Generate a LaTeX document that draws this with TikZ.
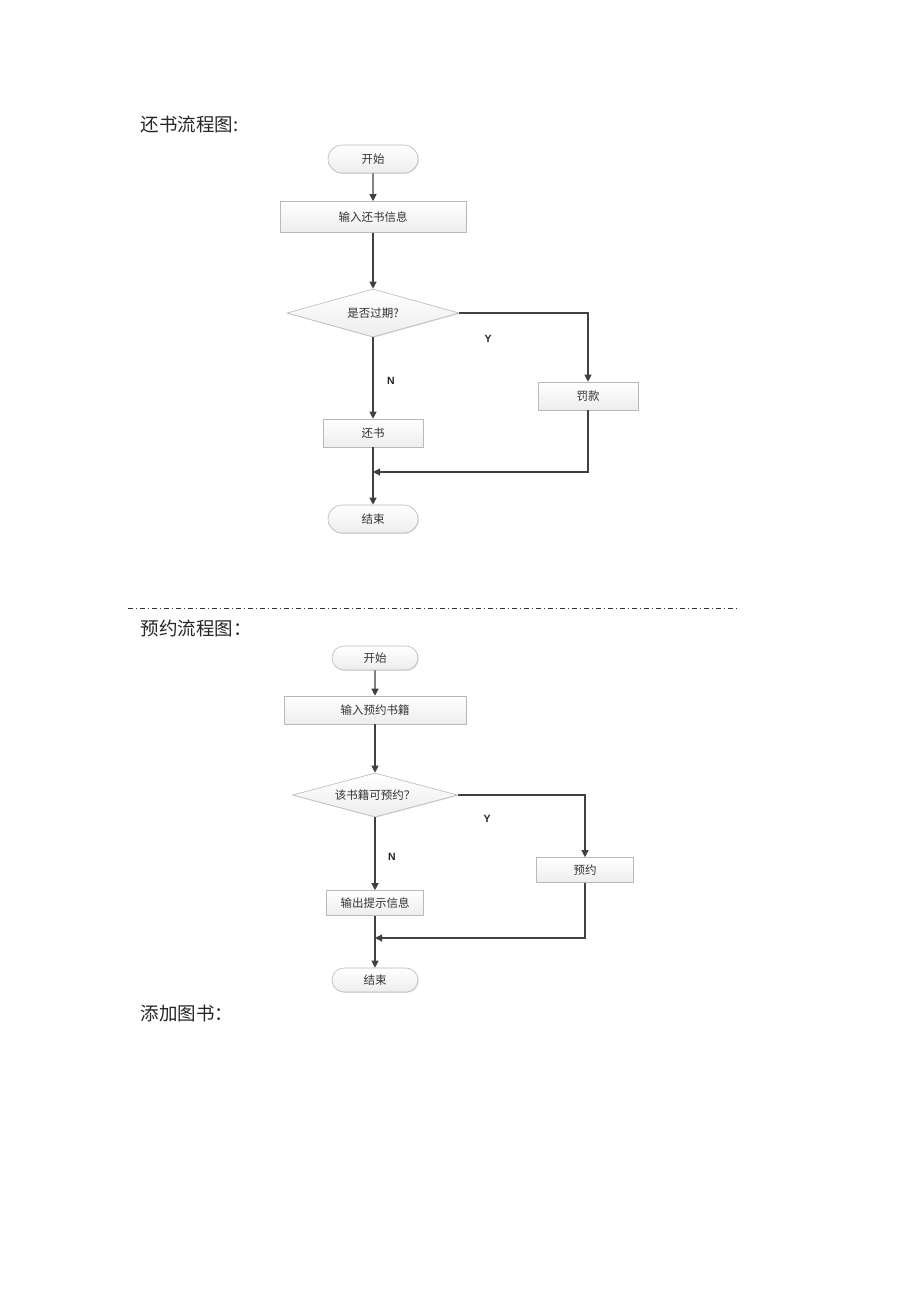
\documentclass[tikz,border=0pt]{standalone}
\usepackage{fontspec}
\setmainfont{Liberation Serif}
\newfontfamily\cjk{Noto Sans CJK SC}
\newfontfamily\lab{Liberation Sans}
\usetikzlibrary{shapes.geometric,shapes.misc,arrows.meta,shadows}
\begin{document}
\begin{tikzpicture}[x=1pt,y=-1pt,
  base/.style={draw=gray!55, line width=0.6pt, top color=white, bottom color=gray!14,
     font=\cjk\fontsize{11.5}{13}\selectfont, text=black!80, inner sep=0pt,
     drop shadow={shadow xshift=0.8pt,shadow yshift=-0.8pt,opacity=0.25}},
  term/.style={base, rounded rectangle, minimum width=#1, minimum height=28},
  term/.default=90,
  procbox/.style={base, rectangle},
  decision/.style={base, diamond, aspect=3.6},
  flow/.style={draw=black!75, line width=1.1pt, -{Triangle[length=7pt,width=7pt]}},
  plain/.style={draw=black!75, line width=1.1pt},
  yn/.style={font=\lab\bfseries\fontsize{10.5}{12}\selectfont, text=black!85},
  title/.style={font=\cjk\fontsize{18.5}{20}\selectfont, anchor=west, text=black!85}]
\useasboundingbox (0,0) rectangle (920,1302);
\fill[white] (0,0) rectangle (920,1302);

% ---------- chart 1 ----------
\node[title] (t1) at (137,124) {还书流程图:};
\node[term=90, minimum height=28] (s1) at (373,159) {开始};
\node[procbox, minimum width=186, minimum height=31] (in1) at (373,217) {输入还书信息};
\node[decision, minimum width=172, minimum height=48] (d1) at (373,313) {是否过期?};
\node[procbox, minimum width=100, minimum height=28] (fk) at (588,396) {罚款};
\node[procbox, minimum width=100, minimum height=28] (hs) at (373,433) {还书};
\node[term=90, minimum height=28] (e1) at (373,519) {结束};
\coordinate (m1) at (373,472);
\coordinate (c1) at (588,313);
\coordinate (c1b) at (588,472);
\node[yn] (y1) at (488,339) {Y};
\node[yn] (n1) at (391,381) {N};
\draw[flow] (s1) -- (in1);
\draw[flow] (in1) -- (d1);
\draw[flow] (d1.east) -- (c1) -- (fk.north);
\draw[flow] (d1.south) -- (hs.north);
\draw[flow] (fk.south) -- (c1b) -- (m1);
\draw[plain] (hs.south) -- (m1);
\draw[flow] (m1) -- (e1.north);

% ---------- separator ----------
\coordinate (sepA) at (128,608);
\coordinate (sepB) at (737,608);
\draw[black!80, line width=0.8pt, dash pattern=on 5pt off 3pt on 1pt off 3pt] (sepA) -- (sepB);

% ---------- chart 2 ----------
\node[title] (t2) at (137,628) {预约流程图：};
\node[term=86, minimum height=24] (s2) at (375,658) {开始};
\node[procbox, minimum width=182, minimum height=28] (in2) at (375,710) {输入预约书籍};
\node[decision, minimum width=165, minimum height=44] (d2) at (375,795) {该书籍可预约？};
\node[procbox, minimum width=97, minimum height=25] (yy) at (585,870) {预约};
\node[procbox, minimum width=97, minimum height=25] (sc) at (375,903) {输出提示信息};
\node[term=86, minimum height=24] (e2) at (375,980) {结束};
\coordinate (m2) at (375,938);
\coordinate (c2) at (585,795);
\coordinate (c2b) at (585,938);
\node[yn] (y2) at (487,819) {Y};
\node[yn] (n2) at (392,857) {N};
\draw[flow] (s2) -- (in2);
\draw[flow] (in2) -- (d2);
\draw[flow] (d2.east) -- (c2) -- (yy.north);
\draw[flow] (d2.south) -- (sc.north);
\draw[flow] (yy.south) -- (c2b) -- (m2);
\draw[plain] (sc.south) -- (m2);
\draw[flow] (m2) -- (e2.north);

\node[title] (t3) at (137,1013) {添加图书：};
\end{tikzpicture}
\end{document}
